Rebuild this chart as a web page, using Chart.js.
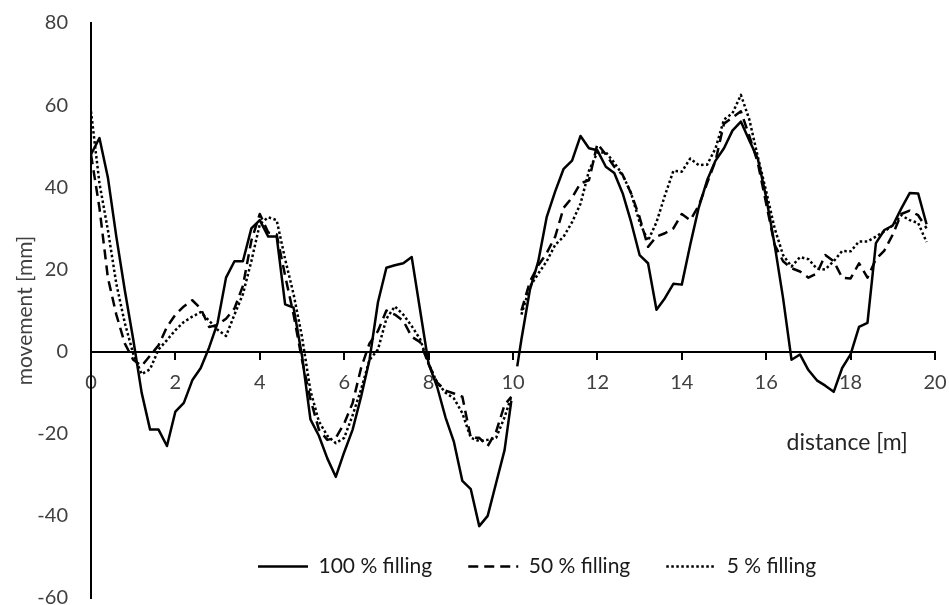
<!DOCTYPE html>
<html>
<head>
<meta charset="utf-8">
<script src="https://cdn.jsdelivr.net/npm/chart.js@4.4.1/dist/chart.umd.min.js"></script>
<style>
  html, body { margin: 0; padding: 0; background: #fff; }
  #wrap { width: 949px; height: 605px; }
</style>
</head>
<body>
<div id="wrap"><canvas id="movementChart"></canvas></div>
<script>
// distance along the track [m]; null row at 10.03 splits the two runs
const distance = [
  0, 0.2, 0.4, 0.6, 0.8, 1.0, 1.2, 1.4, 1.6, 1.8, 2.0, 2.2, 2.4, 2.6, 2.8, 3.0, 3.2, 3.4, 3.6, 3.8,
  4.0, 4.2, 4.4, 4.6, 4.8, 5.0, 5.2, 5.4, 5.6, 5.8, 6.0, 6.2, 6.4, 6.6, 6.8, 7.0, 7.2, 7.4, 7.6, 7.8,
  8.0, 8.2, 8.4, 8.6, 8.8, 9.0, 9.2, 9.4, 9.6, 9.8, 9.96,
  10.03,
  10.1, 10.2, 10.4, 10.6, 10.8, 11.0, 11.2, 11.4, 11.6, 11.8, 12.0, 12.2, 12.4, 12.6, 12.8, 13.0,
  13.2, 13.4, 13.6, 13.8, 14.0, 14.2, 14.4, 14.6, 14.8, 15.0, 15.2, 15.4, 15.6, 15.8, 16.0, 16.2,
  16.4, 16.6, 16.8, 17.0, 17.2, 17.4, 17.6, 17.8, 18.0, 18.2, 18.4, 18.6, 18.8, 19.0, 19.2, 19.4,
  19.6, 19.8
];

const filling100 = [
  48, 52, 42.4, 28, 15, 3, -10, -19, -19, -23, -14.6, -12.5, -7, -4, 1, 7, 18, 22, 22, 30,
  32, 28, 28, 11.5, 10.7, -1, -16.5, -20.5, -26, -30.5, -24.5, -19, -11, -2, 12, 20.4, 21, 21.5, 23, 10,
  -3, -8.5, -16, -22, -31.5, -33.5, -42.5, -40, -32, -24, -12,
  null,
  -3.6, 3, 15, 22, 32.8, 39, 44.5, 46.5, 52.5, 49.5, 49, 45, 43.5, 38.5, 31.5, 23.5,
  21.5, 10.2, 13, 16.5, 16.3, 26, 35, 41.7, 46.5, 49.5, 53.8, 56, 51.4, 47, 37.5, 26,
  13, -2, -0.7, -4.5, -7, -8.3, -9.8, -4, -0.7, 6, 7, 26.4, 29.6, 30.7, 34.8, 38.6,
  38.5, 31
];

const filling50 = [
  48, 35, 18, 9, 2, -2, -3.5, -1, 1.5, 6, 9, 11, 12.5, 10.5, 6, 6.5, 8, 10.5, 16, 27,
  33.5, 29, 28.5, 18.5, 9, -2, -11.6, -19, -21.5, -21, -17.5, -12.5, -4, 2, 5, 10, 9, 7.5, 3.6, 2.3,
  -3, -7.5, -9.5, -10.2, -11, -21, -21, -23, -19.5, -13, -11,
  null,
  null, 10, 17, 21, 24, 28, 35, 37.5, 41, 41.7, 50.6, 48, 45, 43, 38.5, 32.7,
  25.5, 28, 28.8, 30, 33.5, 32, 35.5, 41, 46.5, 55.5, 57, 58.5, 52.5, 46, 36, 26,
  22, 20.3, 19.5, 18, 19, 23.5, 22, 18, 17.8, 21.5, 18, 22.5, 24.6, 28.5, 33.5, 34.3,
  33.2, 30
];

const filling5 = [
  58.5, 41, 29.6, 16.5, 7, -0.5, -5.5, -4.3, 0.5, 2.8, 5.2, 7.2, 8.5, 9.6, 7.5, 5.3, 3.8, 9, 14, 22,
  31, 32.7, 32, 22.5, 14, 3.6, -9.5, -17, -20.5, -22.3, -21, -15.5, -9.2, -2, 0.5, 8, 11, 9, 6.2, 3,
  -3, -7.5, -10, -11.4, -15, -21, -21.8, -21.5, -21, -16, -11,
  null,
  null, 9, 15.8, 19, 22, 26, 28, 31.5, 36, 44, 48.5, 48.5, 46, 43, 38.5, 31.5,
  27, 31.5, 38, 44, 43.8, 47, 45.4, 45.5, 49.5, 56.5, 58, 62.5, 56.5, 47.5, 39, 30,
  23.5, 20.7, 23, 22.5, 20.2, 20, 22, 24.5, 24.4, 26.8, 26.8, 28, 29.3, 30.7, 33.2, 32,
  31.3, 26.7
];

const seriesNames = ['100 % filling', '50 % filling', '5 % filling'];
const xTickStep = 2;
const yRange = [-60, 80];

function points(values) {
  return distance.map((d, i) => ({ x: d, y: values[i] }));
}

Chart.defaults.font.family = 'Lato, "Open Sans", sans-serif';
Chart.defaults.color = '#404040';

// legend sits inside the plot in the original, x title floats under the zero line
const placeExtras = {
  id: 'placeExtras',
  afterLayout(chart) {
    const lg = chart.legend;
    lg.left = 222;
    lg.right = lg.left + chart.width;
    lg.top = 520;
    lg.bottom = chart.height;
  },
  afterDraw(chart) {
    const { ctx, scales: { x, y } } = chart;
    ctx.save();
    ctx.font = '23px Lato, "Open Sans", sans-serif';
    ctx.fillStyle = '#262626';
    ctx.textAlign = 'center';
    ctx.textBaseline = 'middle';
    ctx.fillText('distance [m]', x.getPixelForValue(17.92), y.getPixelForValue(-22.2));
    ctx.restore();
  }
};

const ctx = document.getElementById('movementChart').getContext('2d');
new Chart(ctx, {
  type: 'line',
  data: {
    datasets: [
      {
        label: seriesNames[0],
        data: points(filling100),
        borderColor: '#000',
        borderWidth: 2.5
      },
      {
        label: seriesNames[1],
        data: points(filling50),
        borderColor: '#000',
        borderWidth: 2.5,
        borderDash: [10, 6]
      },
      {
        label: seriesNames[2],
        data: points(filling5),
        borderColor: '#000',
        borderWidth: 2.5,
        borderDash: [2.5, 2.5]
      }
    ]
  },
  options: {
    responsive: true,
    maintainAspectRatio: false,
    animation: false,
    spanGaps: false,
    elements: {
      point: { radius: 0 },
      line: { tension: 0, borderJoinStyle: 'round' }
    },
    layout: { padding: { top: 23, right: 14, bottom: 6, left: 0 } },
    plugins: {
      tooltip: { enabled: false },
      legend: {
        position: 'bottom',
        align: 'start',
        maxHeight: 1,
        labels: {
          usePointStyle: true,
          pointStyle: 'line',
          pointStyleWidth: 50,
          padding: 36,
          color: '#1a1a1a',
          font: { size: 21 },
          generateLabels(chart) {
            const items = Chart.defaults.plugins.legend.labels.generateLabels(chart);
            return items.map((it) => ({
              ...it,
              lineWidth: 2.5,
              strokeStyle: '#000',
              lineDash: chart.data.datasets[it.datasetIndex].borderDash || []
            }));
          }
        }
      }
    },
    scales: {
      x: {
        type: 'linear',
        position: { y: 0 },
        min: 0,
        max: 20,
        afterFit: (s) => { s.height = 0; s.paddingLeft = 0; s.paddingRight = 0; },
        ticks: { stepSize: xTickStep, padding: 12, font: { size: 20 }, color: '#404040' },
        grid: { display: true, drawOnChartArea: false, drawTicks: true, tickLength: 7, color: '#000', lineWidth: 2 },
        border: { display: true, color: '#000', width: 2 }
      },
      y: {
        min: yRange[0],
        max: yRange[1],
        afterFit: (s) => { s.width = 91; s.paddingTop = 0; s.paddingBottom = 0; },
        ticks: { stepSize: 20, padding: 23, font: { size: 20 }, color: '#404040' },
        grid: { display: false, drawTicks: false },
        border: { display: true, color: '#000', width: 2 },
        title: {
          display: true,
          text: 'movement [mm]',
          color: '#404040',
          font: { size: 21 },
          padding: { top: 13, bottom: 0 }
        }
      }
    }
  },
  plugins: [placeExtras]
});
</script>
</body>
</html>
